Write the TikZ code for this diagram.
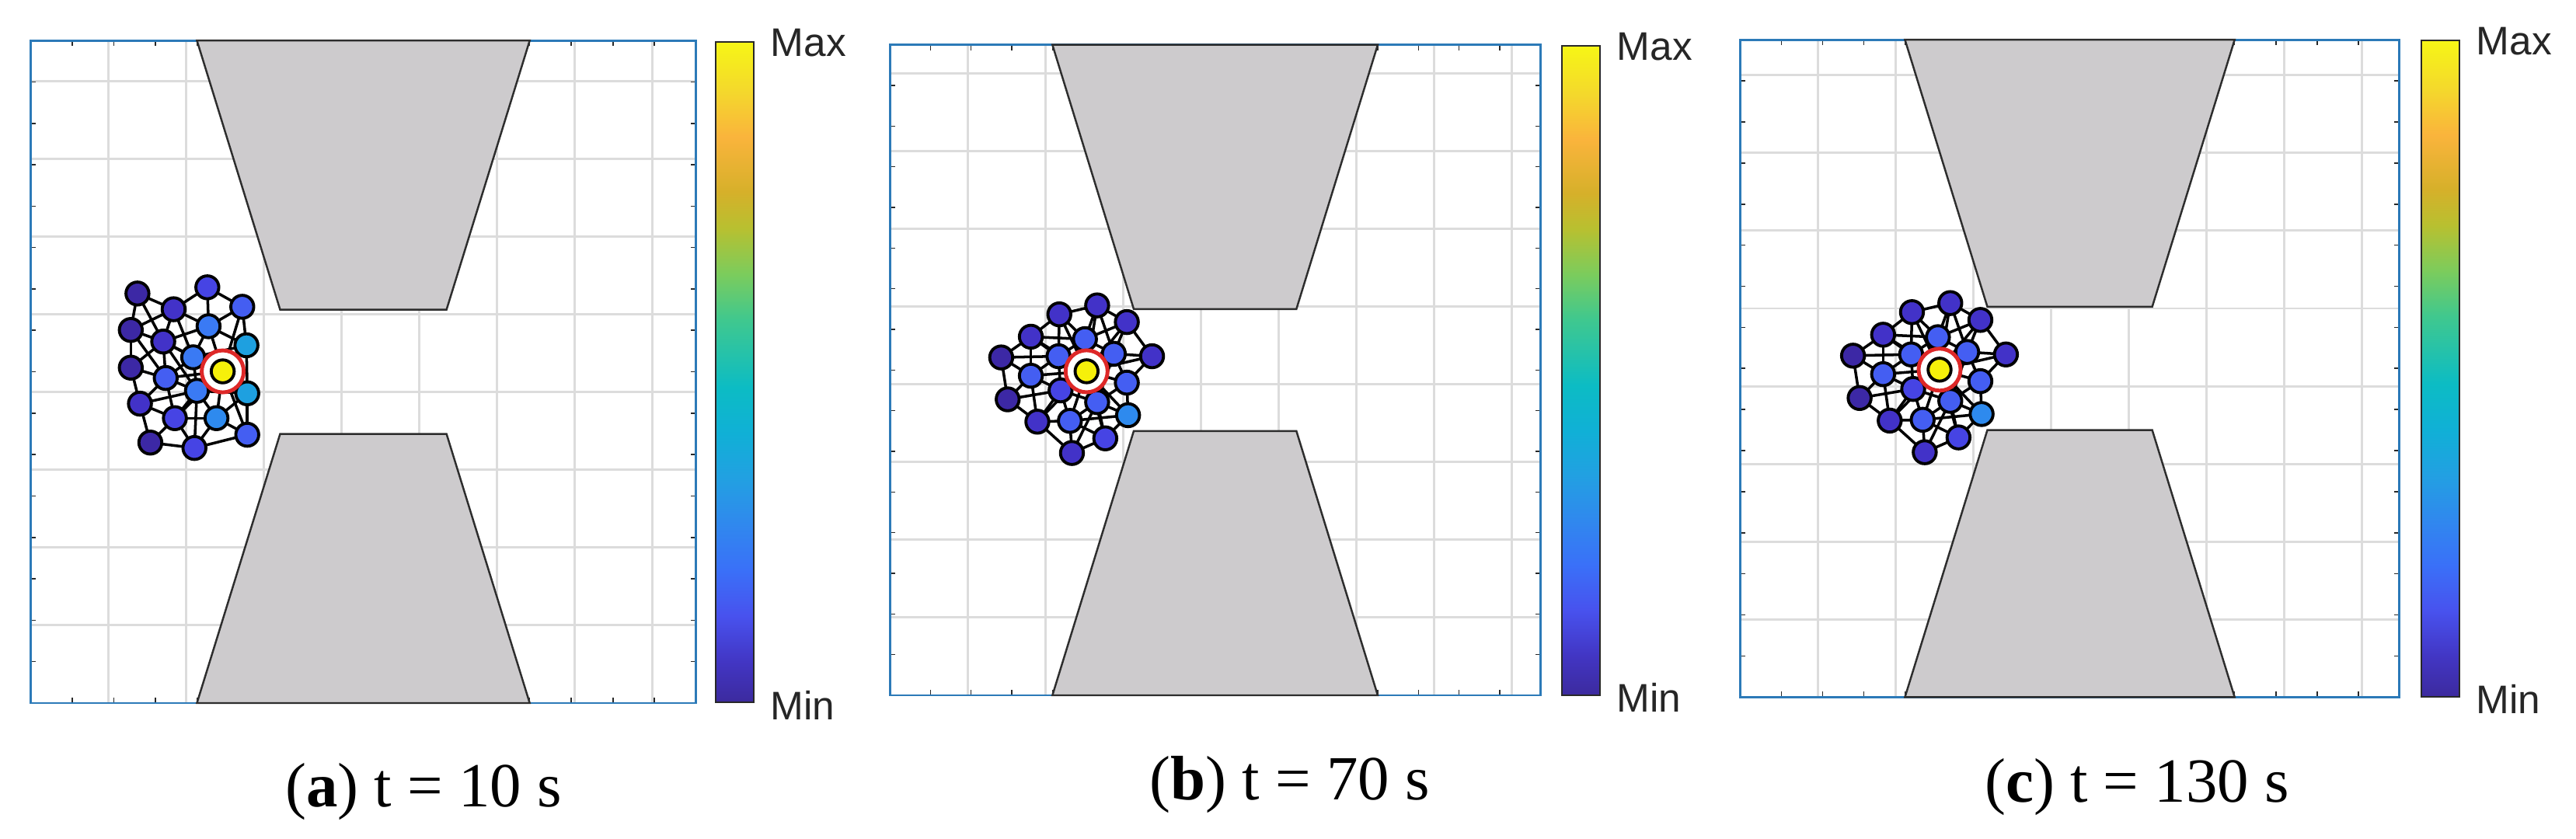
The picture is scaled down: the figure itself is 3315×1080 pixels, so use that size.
\documentclass[tikz,border=0pt]{standalone}
\usepackage{fontspec}
\setmainfont{Liberation Serif}
\newfontfamily\cbfont{Liberation Sans}
\pgfdeclarelayer{bg}
\pgfsetlayers{bg,main}

\definecolor{frameblue}{RGB}{44,122,184}
\definecolor{gridgray}{RGB}{220,220,220}
\definecolor{tickgray}{RGB}{40,40,40}
\definecolor{obsfill}{RGB}{205,203,205}
\definecolor{obsline}{RGB}{45,45,45}
\definecolor{labgray}{RGB}{38,38,38}
\definecolor{c0}{RGB}{60,40,165}
\definecolor{c1}{RGB}{66,50,200}
\definecolor{c2}{RGB}{70,68,228}
\definecolor{c3}{RGB}{68,94,242}
\definecolor{c4}{RGB}{58,122,244}
\definecolor{c5}{RGB}{46,138,238}
\definecolor{c6}{RGB}{30,160,224}
\definecolor{leadyellow}{RGB}{246,240,10}
\definecolor{ringred}{RGB}{222,40,40}

\definecolor{pa0}{RGB}{60,42,158}
\definecolor{pa1}{RGB}{66,54,196}
\definecolor{pa2}{RGB}{72,82,238}
\definecolor{pa3}{RGB}{58,112,248}
\definecolor{pa4}{RGB}{48,136,238}
\definecolor{pa5}{RGB}{34,160,226}
\definecolor{pa6}{RGB}{16,176,214}
\definecolor{pa7}{RGB}{12,188,196}
\definecolor{pa8}{RGB}{64,200,142}
\definecolor{pa9}{RGB}{124,204,92}
\definecolor{pa10}{RGB}{184,192,48}
\definecolor{pa11}{RGB}{214,176,42}
\definecolor{pa12}{RGB}{250,180,60}
\definecolor{pa13}{RGB}{244,216,44}
\definecolor{pa14}{RGB}{246,246,22}
\pgfdeclareverticalshading{parula}{100bp}{color(0bp)=(pa0); color(25bp)=(pa0);
 color(28.1bp)=(pa1); color(31.55bp)=(pa2); color(35bp)=(pa3); color(38.45bp)=(pa4);
 color(41.9bp)=(pa5); color(45.35bp)=(pa6); color(48.85bp)=(pa7); color(54bp)=(pa8);
 color(57.45bp)=(pa9); color(60.9bp)=(pa10); color(63.65bp)=(pa11); color(67.8bp)=(pa12);
 color(71.25bp)=(pa13); color(75bp)=(pa14); color(100bp)=(pa14)}

\def\AX{{2.57,4.25,3.44,5.09,2.41,4.28,3.19,5.19,3.91,4.62,2.41,3.25,4.00,5.21,2.63,3.47,4.47,5.21,2.88,3.94}}
\def\AY{{9.89,10.04,9.51,9.57,9.01,9.10,8.73,8.64,8.35,8.01,8.10,7.85,7.54,7.48,7.23,6.88,6.88,6.48,6.29,6.16}}
\def\AC{{"c0","c2","c1","c3","c0","c4","c1","c6","c4","c0","c0","c3","c4","c6","c1","c2","c5","c3","c0","c2"}}
\def\BX{{4.17,5.10,5.83,3.47,4.80,2.74,4.15,5.51,6.45,4.84,3.47,5.83,4.20,2.90,5.10,5.86,3.63,4.43,5.30,4.48}}
\def\BY{{9.37,9.59,9.18,8.82,8.76,8.31,8.34,8.40,8.34,7.97,7.86,7.69,7.50,7.28,7.21,6.89,6.73,6.75,6.32,5.96}}
\def\BC{{"c1","c1","c1","c1","c3","c0","c3","c3","c1","c0","c3","c3","c2","c0","c3","c5","c1","c3","c2","c1"}}

\tikzset{
  gridline/.style={draw=gridgray, line width=0.85pt},
  tickmark/.style={draw=tickgray, line width=0.45pt},
  axisframe/.style={draw=frameblue, line width=0.85pt},
  obstacle/.style={fill=obsfill, draw=obsline, line width=0.7pt, line join=miter},
  robot/.style={circle, draw=black, line width=1.1pt, minimum size=0.295cm, inner sep=0pt},
  ring/.style={circle, draw=ringred, fill=white, line width=1.4pt, minimum size=0.54cm, inner sep=0pt},
  link/.style={draw=black, line width=1pt},
  cbframe/.style={draw=tickgray, line width=0.45pt},
  cblabel/.style={font=\cbfont\fontsize{14.6}{16}\selectfont, text=labgray, inner sep=0pt},
  subcap/.style={font=\fontsize{23}{27}\selectfont, text=black, inner sep=0pt}
}

\newcommand\panelbase{%
  \begin{pgfonlayer}{bg}
  \draw[gridline] (0,0) grid (16,16);
  \foreach \k in {1,...,15}{
    \draw[tickmark] (\k,0) -- ++(0,0.13);
    \draw[tickmark] (\k,16) -- ++(0,-0.13);
    \draw[tickmark] (0,\k) -- ++(0.13,0);
    \draw[tickmark] (16,\k) -- ++(-0.13,0);
  }
  \draw[axisframe] (0,0) rectangle (16,16);
  \filldraw[obstacle] (4,16) -- (12,16) -- (10,9.5) -- (6,9.5) -- cycle;
  \filldraw[obstacle] (4,0) -- (12,0) -- (10,6.5) -- (6,6.5) -- cycle;
  \end{pgfonlayer}
}

% #1 prefix, #2 xs, #3 ys, #4 colours; leader is index 9
\newcommand\drawswarm[4]{%
  \foreach \i in {0,...,19}{
    \ifnum\i=9\relax\else
      \pgfmathsetmacro\px{#2[\i]}
      \pgfmathsetmacro\py{#3[\i]}
      \pgfmathsetmacro\pc{#4[\i]}
      \node[robot, fill=\pc] (#1\i) at (\px,\py) {};
    \fi
  }
  \pgfmathsetmacro\px{#2[9]}
  \pgfmathsetmacro\py{#3[9]}
  \node[ring] (#1ring) at (\px,\py) {};
  \node[robot, fill=leadyellow] (#19) at (\px,\py) {};
  \begin{pgfonlayer}{bg}
  \foreach \i in {0,...,18}{
    \pgfmathtruncatemacro\jstart{\i+1}
    \foreach \j in {\jstart,...,19}{
      \pgfmathsetmacro\xa{#2[\i]}
      \pgfmathsetmacro\xb{#2[\j]}
      \pgfmathsetmacro\ya{#3[\i]}
      \pgfmathsetmacro\yb{#3[\j]}
      \pgfmathsetmacro\dd{veclen(\xa-\xb,\ya-\yb)}
      \ifdim\dd pt<1.45pt \draw[link] (#1\i.center) -- (#1\j.center);
      \else\ifnum\i=9\relax\ifdim\dd pt<1.9pt \draw[link] (#1\i.center) -- (#1\j.center);\fi
      \else\ifnum\j=9\relax\ifdim\dd pt<1.9pt \draw[link] (#1\i.center) -- (#1\j.center);\fi\fi\fi\fi
    }
  }
  \end{pgfonlayer}
}

\begin{document}
\begin{tikzpicture}[x=0.01cm, y=-0.01cm]
\begin{pgfonlayer}{bg}
\fill[white] (0,0) rectangle (3315,1080);
\end{pgfonlayer}
\useasboundingbox (0,0) rectangle (3315,1080);

% panel a
\begin{scope}[shift={(39.3,905)}, x=0.535cm, y=0.5327cm]
  \panelbase
  \drawswarm{a}{\AX}{\AY}{\AC}
\end{scope}
% panel b
\begin{scope}[shift={(1145,895)}, x=0.523cm, y=0.523cm]
  \panelbase
  \drawswarm{b}{\BX}{\BY}{\BC}
\end{scope}
% panel c
\begin{scope}[shift={(2239.3,897.3)}, x=0.530cm, y=0.5285cm]
  \panelbase
  \drawswarm{c}{\BX}{\BY}{\BC}
\end{scope}

% colour bars
\shade[shading=parula] (921,54) rectangle (970,904);
\draw[cbframe] (921,54) rectangle (970,904);
\node[cblabel, anchor=base west] (amax) at (991,73) {Max};
\node[cblabel, anchor=base west] (amin) at (991,926) {Min};

\shade[shading=parula] (2010,59) rectangle (2059,895);
\draw[cbframe] (2010,59) rectangle (2059,895);
\node[cblabel, anchor=base west] (bmax) at (2080,78) {Max};
\node[cblabel, anchor=base west] (bmin) at (2080,917) {Min};

\shade[shading=parula] (3116,52) rectangle (3165,897);
\draw[cbframe] (3116,52) rectangle (3165,897);
\node[cblabel, anchor=base west] (cmax) at (3186,71) {Max};
\node[cblabel, anchor=base west] (cmin) at (3186,919) {Min};

% captions
\node[subcap, anchor=base] (capa) at (545,1038) {(\textbf{a}) t = 10 s};
\node[subcap, anchor=base] (capb) at (1660,1030) {(\textbf{b}) t = 70 s};
\node[subcap, anchor=base] (capc) at (2750,1033) {(\textbf{c}) t = 130 s};
\end{tikzpicture}
\end{document}
